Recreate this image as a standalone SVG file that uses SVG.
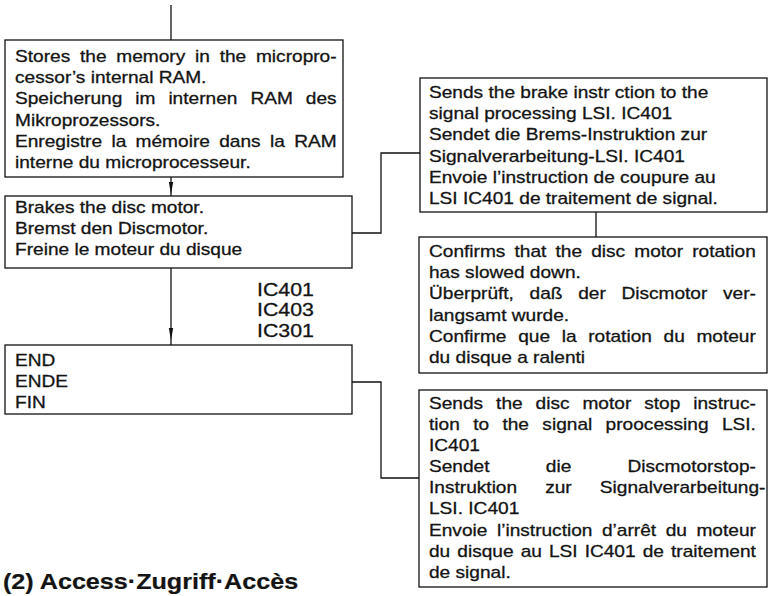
<svg xmlns="http://www.w3.org/2000/svg" width="768" height="596" viewBox="0 0 768 596">
<style>
.box{fill:none;stroke:#111;stroke-width:1.3}
.con{fill:none;stroke:#111;stroke-width:1.3}
text{font-family:"Liberation Sans",Arial,Helvetica,sans-serif;font-size:17px;fill:#141414;stroke:#141414;stroke-width:0.3}
.ic{font-size:19px}
.ttl{font-size:21.5px;font-weight:bold;stroke-width:0.2}
</style>
<defs>
<marker id="ah" viewBox="0 0 12 6" markerWidth="12" markerHeight="6" refX="12" refY="3" orient="auto" markerUnits="userSpaceOnUse"><path d="M0,0.8 L12,3 L0,5.2 Z" fill="#111"/></marker>
</defs>
<rect width="768" height="596" fill="#fff"/>
<g id="connectors">
<path class="con" d="M171,5 V40"/>
<path class="con" d="M171,177 V194" marker-end="url(#ah)"/>
<path class="con" d="M171,194 V196"/>
<path class="con" d="M171,268 V340" marker-end="url(#ah)"/>
<path class="con" d="M171,340 V345"/>
<path class="con" d="M352,233 H381 V153 H420"/>
<path class="con" d="M596,212 V237"/>
<path class="con" d="M352,382 H381 V478 H419"/>
</g>
<g id="store-ram">
<rect class="box" x="5" y="40" width="338" height="137"/>
<g transform="translate(15,0) scale(1.124,1)">
<text x="0" y="62" word-spacing="3.96">Stores the memory in the micropro-</text>
<text x="0" y="83.2">cessor’s internal RAM.</text>
<text x="0" y="104.4" word-spacing="6.83">Speicherung im internen RAM des</text>
<text x="0" y="125.6">Mikroprozessors.</text>
<text x="0" y="146.8" word-spacing="3.58">Enregistre la mémoire dans la RAM</text>
<text x="0" y="168">interne du microprocesseur.</text>
</g>
</g>
<g id="brake-motor">
<rect class="box" x="5" y="196" width="347" height="72"/>
<g transform="translate(15,0) scale(1.124,1)">
<text x="0" y="213">Brakes the disc motor.</text>
<text x="0" y="234.2">Bremst den Discmotor.</text>
<text x="0" y="255.4">Freine le moteur du disque</text>
</g>
</g>
<g id="ic-labels">
<g transform="translate(257,0) scale(1.124,1)">
<text class="ic" x="0" y="296">IC401</text>
<text class="ic" x="0" y="316.5">IC403</text>
<text class="ic" x="0" y="337">IC301</text>
</g>
</g>
<g id="end">
<rect class="box" x="5" y="345" width="347" height="69"/>
<g transform="translate(15,0) scale(1.124,1)">
<text x="0" y="366">END</text>
<text x="0" y="387.2">ENDE</text>
<text x="0" y="408.4">FIN</text>
</g>
</g>
<g id="brake-instruction">
<rect class="box" x="420" y="78" width="347" height="134"/>
<g transform="translate(429,0) scale(1.124,1)">
<text x="0" y="98">Sends the brake instr ction to the</text>
<text x="0" y="119.2">signal processing LSI. IC401</text>
<text x="0" y="140.4">Sendet die Brems-Instruktion zur</text>
<text x="0" y="161.6">Signalverarbeitung-LSI. IC401</text>
<text x="0" y="182.8">Envoie l’instruction de coupure au</text>
<text x="0" y="204">LSI IC401 de traitement de signal.</text>
</g>
</g>
<g id="confirm-slowdown">
<rect class="box" x="419" y="237" width="348" height="136"/>
<g transform="translate(429,0) scale(1.124,1)">
<text x="0" y="257" word-spacing="3.38">Confirms that the disc motor rotation</text>
<text x="0" y="278.2">has slowed down.</text>
<text x="0" y="299.4" word-spacing="9.2">Überprüft, daß der Discmotor ver-</text>
<text x="0" y="320.6">langsamt wurde.</text>
<text x="0" y="341.8" word-spacing="5.64">Confirme que la rotation du moteur</text>
<text x="0" y="363">du disque a ralenti</text>
</g>
</g>
<g id="stop-instruction">
<rect class="box" x="419" y="390" width="348" height="197"/>
<g transform="translate(429,0) scale(1.124,1)">
<text x="0" y="409" word-spacing="6.78">Sends the disc motor stop instruc-</text>
<text x="0" y="430.1" word-spacing="7.16">tion to the signal proocessing LSI.</text>
<text x="0" y="451.2">IC401</text>
<text x="0" y="472.3" word-spacing="45.3">Sendet die Discmotorstop-</text>
<text x="0" y="493.4" word-spacing="20.25">Instruktion zur Signalverarbeitung-</text>
<text x="0" y="514.5">LSI. IC401</text>
<text x="0" y="535.6" word-spacing="3.75">Envoie l’instruction d’arrêt du moteur</text>
<text x="0" y="556.7" word-spacing="1.55">du disque au LSI IC401 de traitement</text>
<text x="0" y="577.8">de signal.</text>
</g>
</g>
<g id="title">
<g transform="translate(3,0) scale(1.17,1)">
<text class="ttl" x="0" y="589.5">(2)  Access·Zugriff·Accès</text>
</g>
</g>
</svg>
